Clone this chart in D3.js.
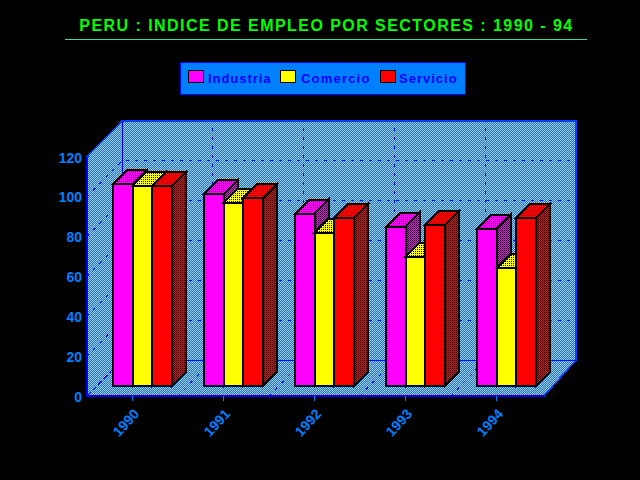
<!DOCTYPE html>
<html><head><meta charset="utf-8">
<script src="https://cdn.jsdelivr.net/npm/d3@7/dist/d3.min.js"></script>
<style>html,body{margin:0;padding:0;background:#000;overflow:hidden}svg{display:block}text{font-family:"Liberation Sans",Arial,sans-serif}</style>
</head><body><div id="c"></div>
<script>
const years = ["1990","1991","1992","1993","1994"];
const seriesNames = ["Industria","Comercio","Servicio"];
const seriesColors = ["#ff00ff","#ffff00","#ff0000"];
const industria = [101.5,96.5,86.5,80,79];
const comercio = [100.5,92,77,65,59];
const servicio = [100.5,94.5,84.5,81,84.5];
const seriesValues = [industria,comercio,servicio];
const yTicks = [0,20,40,60,80,100,120];
const titleText = "PERU : INDICE DE EMPLEO POR SECTORES : 1990 - 94";

const W=640,H=480;
const svg=d3.select("#c").append("svg").attr("width",W).attr("height",H);
svg.append("rect").attr("width",W).attr("height",H).attr("fill","#000");
const defs=svg.append("defs");
function pat(id,bg,fg,cells){
  const p=defs.append("pattern").attr("id",id).attr("patternUnits","userSpaceOnUse").attr("width",2).attr("height",2);
  p.append("rect").attr("width",2).attr("height",2).attr("fill",bg).attr("shape-rendering","crispEdges");
  cells.forEach(c=>p.append("rect").attr("x",c[0]).attr("y",c[1]).attr("width",1).attr("height",1).attr("fill",fg).attr("shape-rendering","crispEdges"));
}
const checker=[[0,0],[1,1]], dots=[[1,1]];
pat("wall","#0080ff","#c0c0c0",checker);
seriesColors.forEach((c,i)=>{pat("top"+i,c,"#000",dots);pat("side"+i,c,"#000",checker);});

const x=d3.scaleBand().domain(years).range([87,542]);
const xBack=d3.scaleBand().domain(years).range([122,576]);
const y=d3.scaleLinear().domain([0,120]).range([396,157]);
const wallDY=-36;
const line=d3.line();
const blue="#0000ff";

// walls and floor
const g=svg.append("g").attr("shape-rendering","crispEdges");
const x0=x.range()[0],x1=x.range()[1]+2,y0=y(0),yT=y(120),bx0=xBack.range()[0],bx1=xBack.range()[1];
g.append("path").attr("d",line([[x0,y0],[x0,yT],[bx0,yT+wallDY],[bx1,yT+wallDY],[bx1,y0+wallDY],[x1,y0]])+"Z")
  .attr("fill","url(#wall)").attr("stroke","#0040ff").attr("stroke-width",1.5);
// grid
const grid=svg.append("g").attr("fill","none").attr("stroke",blue).attr("stroke-width",1).attr("shape-rendering","crispEdges");
yTicks.slice(1,-1).forEach(v=>{
  grid.append("path").attr("stroke-dasharray","3,6").attr("d",line([[x0,y(v)],[bx0,y(v)+wallDY],[bx1,y(v)+wallDY]]));
});
years.slice(1).forEach(c=>{
  grid.append("path").attr("stroke-dasharray","3,6").attr("d",line([[x(c),y0],[xBack(c),y0+wallDY],[xBack(c),yT+wallDY]]));
});
grid.append("path").attr("d",line([[bx0,yT+wallDY],[bx0,y0+wallDY],[bx1,y0+wallDY]]));
grid.append("path").attr("stroke-dasharray","5,3").attr("d",line([[x0,y0],[bx0,y0+wallDY]]));

// bars
const barW=19.7,barOff=10,barDepth=14;
const bars=svg.append("g").attr("stroke","#000").attr("stroke-width",2).attr("stroke-linejoin","miter").attr("shape-rendering","crispEdges");
years.forEach((yr,ci)=>{
  const left=x(yr)+x.bandwidth()/2-barW*1.5+barOff;
  seriesValues.forEach((vals,si)=>{
    const a=left+si*barW,b=a+barW,t=y(vals[ci])-barOff,base=y0-barOff;
    bars.append("path").attr("fill","url(#top"+si+")").attr("d",line([[a,t],[a+barDepth,t-barDepth],[b+barDepth,t-barDepth],[b,t]])+"Z");
    bars.append("path").attr("fill","url(#side"+si+")").attr("d",line([[b,t],[b+barDepth,t-barDepth],[b+barDepth,base-barDepth],[b,base]])+"Z");
    bars.append("path").attr("fill",seriesColors[si]).attr("d",line([[a,t],[b,t],[b,base],[a,base]])+"Z");
  });
});
// front edges
svg.append("path").attr("fill","none").attr("stroke",blue).attr("stroke-width",2).attr("shape-rendering","crispEdges")
  .attr("d",line([[x0,yT],[x0,y0],[x1,y0]]));

// axes
const axisColor="#0080ff";
const yAxis=d3.axisLeft(y).tickValues(yTicks).tickSize(0).tickPadding(5);
const ya=svg.append("g").attr("transform","translate("+x0+",0)").call(yAxis);
ya.select(".domain").remove();
ya.selectAll("text").attr("fill",axisColor).style("font-size","14px").style("font-weight","bold").attr("dy","0.36em");
const xAxis=d3.axisBottom(x).tickSize(5).tickPadding(8);
const xa=svg.append("g").attr("transform","translate(0,"+y0+")").call(xAxis);
xa.select(".domain").remove();
xa.selectAll(".tick line").attr("stroke",axisColor).attr("stroke-width",1.5).attr("shape-rendering","crispEdges");
xa.selectAll("text").attr("fill",axisColor).style("font-size","14px").style("font-weight","bold")
  .attr("text-anchor","middle").attr("y",0).attr("dy",0)
  .attr("transform","translate(-3,30) rotate(-47)");

// title
svg.append("text").attr("x",326.5).attr("y",31).attr("text-anchor","middle").attr("fill","#00ff00")
  .style("font-size","16px").style("font-weight","bold").style("letter-spacing","1.45px").text(titleText);
svg.append("line").attr("x1",65).attr("x2",587).attr("y1",39.5).attr("y2",39.5).attr("stroke","#30e0a0");

// legend
const leg=svg.append("g");
leg.append("rect").attr("x",180.5).attr("y",62.5).attr("width",285).attr("height",32).attr("fill","#0080ff").attr("stroke",blue);
const swatchX=[188,280,380], labelX=[208,301,399], labelSp=[0.95,1.2,1.0];
seriesNames.forEach((n,i)=>{
  leg.append("rect").attr("x",swatchX[i]+.5).attr("y",70.5).attr("width",15).attr("height",12).attr("fill",seriesColors[i]).attr("stroke","#000");
  leg.append("text").attr("x",labelX[i]).attr("y",83).attr("fill",blue).style("font-size","13px").style("font-weight","bold").style("letter-spacing",labelSp[i]+"px").text(n);
});
</script></body></html>
